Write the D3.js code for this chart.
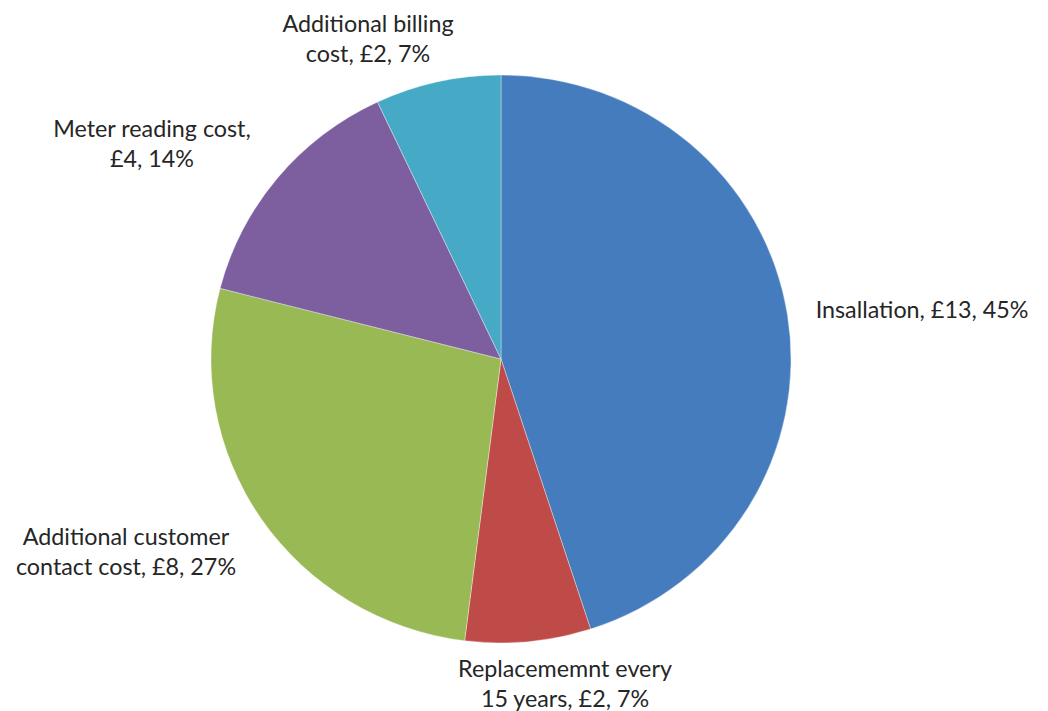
<!DOCTYPE html>
<html>
<head>
<meta charset="utf-8">
<script src="https://cdn.jsdelivr.net/npm/d3@7"></script>
<style>
  html, body { margin: 0; padding: 0; background: #fff; }
  svg { display: block; }
  text { font-family: Lato, "Open Sans", sans-serif; fill: #262626; }
</style>
</head>
<body>
<svg id="chart" width="1048" height="711"></svg>
<script>
// Cost breakdown per meter
const categories = [
  "Insallation",
  "Replacememnt every 15 years",
  "Additional customer contact cost",
  "Meter reading cost",
  "Additional billing cost"
];
const costs = ["£13", "£2", "£8", "£4", "£2"];
const shares = [45, 7, 27, 14, 7];
const colors = ["#457cbd", "#be4b48", "#98b954", "#7d5f9f", "#46a9c5"];

// Label text broken into lines, and where each label block sits (centre x, first baseline)
const labelLines = [
  ["Insallation, £13, 45%"],
  ["Replacememnt every", "15 years, £2, 7%"],
  ["Additional customer", "contact cost, £8, 27%"],
  ["Meter reading cost,", "£4, 14%"],
  ["Additional billing", "cost, £2, 7%"]
];
const labelPos = [
  { x: 922, y: 318 },
  { x: 565, y: 677 },
  { x: 126, y: 545 },
  { x: 152, y: 137 },
  { x: 368, y: 32 }
];

const width = 1048, height = 711;
const cx = 501, cy = 359, rx = 290, ry = 284;
const lineGap = 29.5;

const svg = d3.select("#chart");

const pie = d3.pie().sort(null).value(d => d.share);
const arc = d3.arc().innerRadius(0).outerRadius(rx);

const data = categories.map((c, i) => ({ name: c, cost: costs[i], share: shares[i], color: colors[i] }));

const g = svg.append("g")
  .attr("transform", `translate(${cx},${cy}) scale(1,${ry / rx})`);

g.selectAll("path")
  .data(pie(data))
  .join("path")
  .attr("d", arc)
  .attr("fill", d => d.data.color)
  .attr("stroke", "#ffffff")
  .attr("stroke-opacity", 0.45)
  .attr("stroke-width", 0.8);

const labels = svg.append("g").attr("font-size", 23.3);

data.forEach((d, i) => {
  const t = labels.append("text")
    .attr("text-anchor", "middle")
    .attr("x", labelPos[i].x)
    .attr("y", labelPos[i].y);
  labelLines[i].forEach((line, j) => {
    t.append("tspan")
      .attr("x", labelPos[i].x)
      .attr("dy", j === 0 ? 0 : lineGap)
      .text(line);
  });
});
</script>
</body>
</html>
